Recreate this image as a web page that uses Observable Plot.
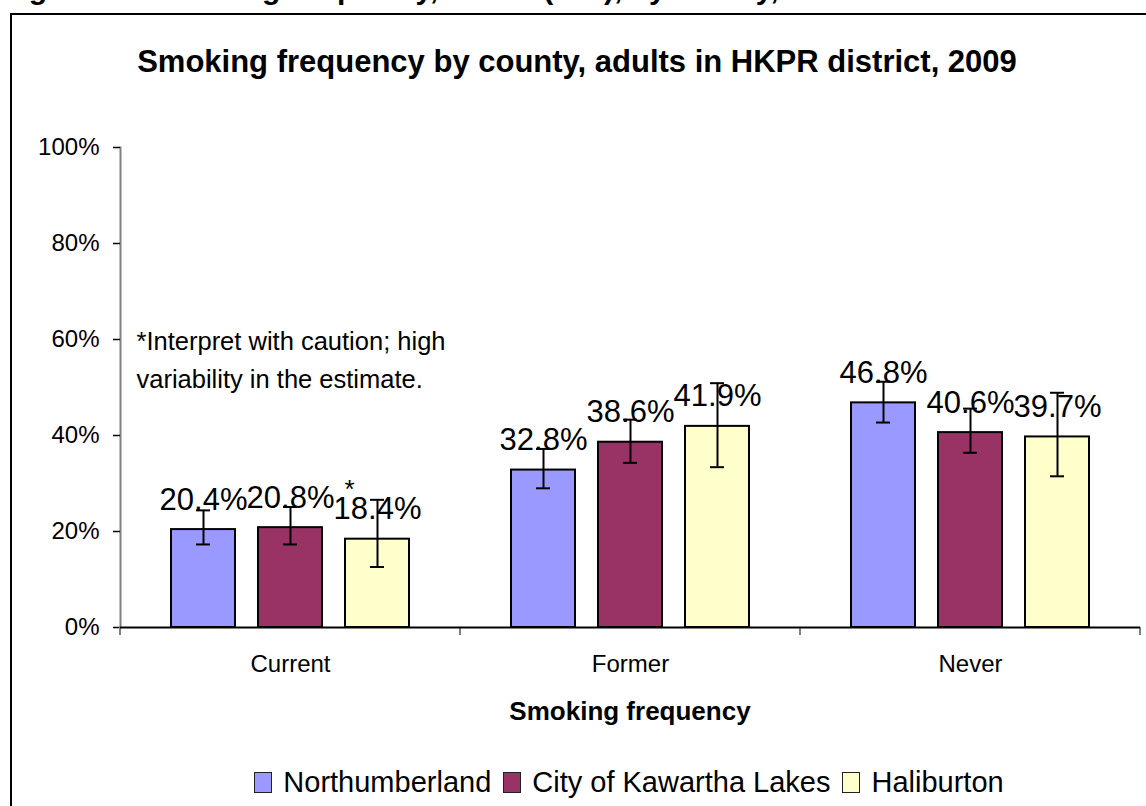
<!DOCTYPE html>
<html>
<head>
<meta charset="utf-8">
<script src="https://cdn.jsdelivr.net/npm/d3@7"></script>
<script src="https://cdn.jsdelivr.net/npm/@observablehq/plot@0.6"></script>
<style>
  html, body { margin: 0; padding: 0; background: #fff; overflow: hidden; }
  #page { position: relative; width: 1146px; height: 806px; overflow: hidden;
          font-family: Arial, "Liberation Sans", Helvetica, sans-serif; color: #000; }
  #caption { position: absolute; left: 2px; top: -26px; font-weight: bold; font-size: 30px;
             line-height: 30px; white-space: nowrap; }
  #box { position: absolute; left: 10px; top: 13px; width: 1200px; height: 900px;
         border: 2px solid #000; box-sizing: border-box; background: #fff; }
  #chart { position: absolute; left: 0; top: 0; }
  #title { position: absolute; left: 0; width: 1154px; top: 46px; text-align: center;
           font-weight: bold; font-size: 31px; line-height: 31px; white-space: nowrap; }
  #xtitle { position: absolute; left: 120px; width: 1020px; top: 698px; text-align: center;
            font-weight: bold; font-size: 26px; line-height: 26px; white-space: nowrap; }
  #legend { position: absolute; left: 120px; width: 1018px; top: 768px; display: flex;
            justify-content: center; align-items: center; font-size: 29px; line-height: 29px;
            white-space: nowrap; }
  .item { display: flex; align-items: center; margin: 0 6px; }
  .sw { width: 18px; height: 21px; box-sizing: border-box; border: 1.5px solid #222; margin-right: 11px; }
</style>
</head>
<body>
<div id="page">
  <div id="caption">Figure 12: Smoking frequency, adults (18+), by county, 2009</div>
  <div id="box"></div>
  <div id="chart"></div>
  <div id="title">Smoking frequency by county, adults in HKPR district, 2009</div>
  <div id="xtitle">Smoking frequency</div>
  <div id="legend"></div>
</div>
<script>
// ---- Data ----
const frequencies = ["Current", "Former", "Never"];
const counties = ["Northumberland", "City of Kawartha Lakes", "Haliburton"];
const countyColors = ["#9999FF", "#993366", "#FFFFCC"];

// percentages, in order Current, Former, Never
const northumberland = [20.4, 32.8, 46.8];
const kawarthaLakes = [20.8, 38.6, 40.6];
const haliburton = [18.4, 41.9, 39.7];

// 95% CI bounds
const northumberlandLow = [17.3, 29.0, 42.7];
const northumberlandHigh = [24.4, 37.2, 51.2];
const kawarthaLakesLow = [17.3, 34.3, 36.4];
const kawarthaLakesHigh = [25.1, 43.3, 45.6];
const haliburtonLow = [12.6, 33.4, 31.5];
const haliburtonHigh = [26.6, 50.9, 48.9];

// high variability flags
const haliburtonFlag = [true, false, false];

const yTicks = [0, 20, 40, 60, 80, 100];
const noteText = "*Interpret with caution; high\nvariability in the estimate.";

// ---- Build table ----
const seriesValues = [northumberland, kawarthaLakes, haliburton];
const seriesLow = [northumberlandLow, kawarthaLakesLow, haliburtonLow];
const seriesHigh = [northumberlandHigh, kawarthaLakesHigh, haliburtonHigh];
const seriesFlag = [[false, false, false], [false, false, false], haliburtonFlag];

const data = frequencies.flatMap((f, i) => counties.map((c, j) => ({
  frequency: f, county: c, value: seriesValues[j][i],
  lo: seriesLow[j][i], hi: seriesHigh[j][i], flag: seriesFlag[j][i]
})));
const noteData = [{frequency: frequencies[0], text: noteText}];

// facet boundary tick marks (Excel-style "between" ticks)
function boundaryTicks(index, scales, values, dims) {
  const g = d3.create("svg:g").attr("stroke", "#808080").attr("stroke-width", 2);
  const y0 = scales.y(0);
  const xs = [dims.marginLeft, dims.width - dims.marginRight];
  for (const x of xs) {
    g.append("line").attr("x1", x).attr("x2", x).attr("y1", y0).attr("y2", y0 + 8);
  }
  return g.node();
}

const chart = Plot.plot({
  width: 1146,
  height: 700,
  marginLeft: 120,
  marginRight: 6,
  marginTop: 147,
  marginBottom: 73,
  style: {fontFamily: "Arial, 'Liberation Sans', sans-serif", background: "transparent", overflow: "visible", color: "#000"},
  fx: {domain: frequencies, padding: 0, label: null},
  x: {domain: counties, paddingInner: 0.264, paddingOuter: 0.586, axis: null},
  y: {domain: [0, 100], label: null},
  color: {domain: counties, range: countyColors},
  marks: [
    Plot.frame({anchor: "left", facetAnchor: "left", stroke: "#808080", strokeWidth: 2}),
    Plot.axisY({ticks: yTicks, tickFormat: d => d + "%", tickSize: 7, tickPadding: 14,
                fontSize: 24, stroke: "#000", strokeWidth: 1.5, label: null}),
    Plot.axisFx({anchor: "bottom", tickSize: 0, tickPadding: 27, fontSize: 24, label: null}),
    boundaryTicks,
    Plot.barY(data, {fx: "frequency", x: "county", y: "value", fill: "county", stroke: "#000", strokeWidth: 2}),
    Plot.ruleY([0], {stroke: "#000", strokeWidth: 2}),
    Plot.ruleX(data, {fx: "frequency", x: "county", y1: "lo", y2: "hi", stroke: "#000", strokeWidth: 2}),
    Plot.tickY(data, {fx: "frequency", x: "county", y: "lo", stroke: "#000", strokeWidth: 2, insetLeft: 25, insetRight: 25}),
    Plot.tickY(data, {fx: "frequency", x: "county", y: "hi", stroke: "#000", strokeWidth: 2, insetLeft: 25, insetRight: 25}),
    Plot.text(data, {fx: "frequency", x: "county", y: "value", text: d => d.value.toFixed(1) + "%",
                     lineAnchor: "bottom", dy: -20, fontSize: 31, fill: "#000"}),
    Plot.text(data.filter(d => d.flag), {fx: "frequency", x: "county", y: "value", text: () => "*",
                     lineAnchor: "bottom", dy: -41, dx: -28, fontSize: 26, fill: "#000"}),
    Plot.text(noteData, {fx: "frequency", text: "text", frameAnchor: "top-left", textAnchor: "start",
                     lineAnchor: "top", dx: 16, dy: 175, lineHeight: 1.5, fontSize: 25.5, fill: "#000"})
  ]
});
document.getElementById("chart").appendChild(chart);

// legend
const legend = document.getElementById("legend");
counties.forEach((c, i) => {
  const item = document.createElement("div");
  item.className = "item";
  const sw = document.createElement("div");
  sw.className = "sw";
  sw.style.background = countyColors[i];
  const lab = document.createElement("span");
  lab.textContent = c;
  item.appendChild(sw);
  item.appendChild(lab);
  legend.appendChild(item);
});
</script>
</body>
</html>
